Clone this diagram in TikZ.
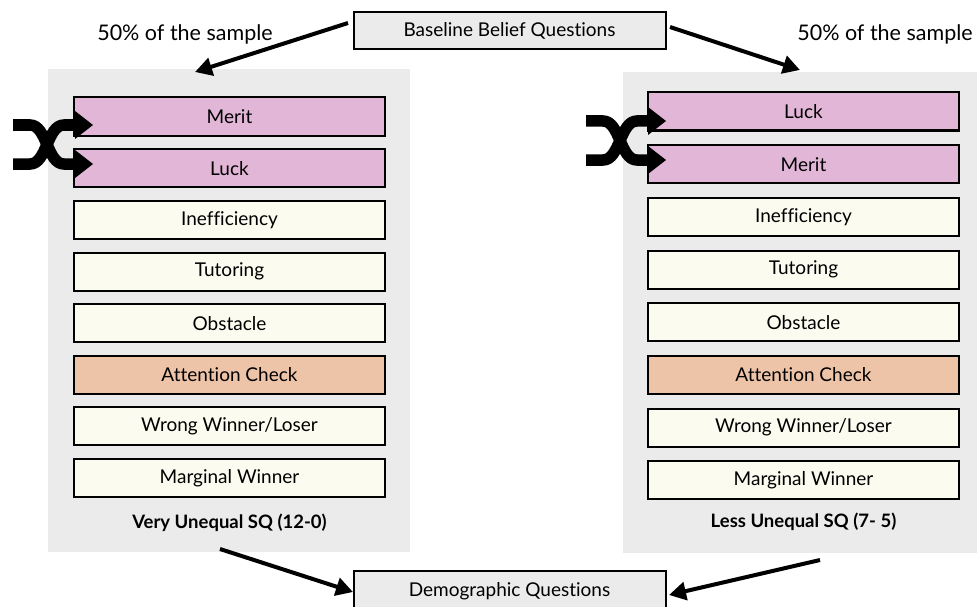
\documentclass[tikz,border=0pt]{standalone}
\usepackage{fontspec}
\setmainfont{Lato}[Ligatures=NoCommon]
\usetikzlibrary{arrows.meta}
\definecolor{panelgray}{HTML}{EBEBEB}
\definecolor{topgray}{HTML}{EBEBEB}
\definecolor{pinkq}{HTML}{E2B6D6}
\definecolor{creamq}{HTML}{FBFBEF}
\definecolor{peachq}{HTML}{EEC4A9}
\begin{document}
\begin{tikzpicture}[x=1pt,y=-1pt,
  panel/.style={fill=panelgray, draw=none},
  qbox/.style={draw=black, line width=2pt, minimum width=311pt, minimum height=38pt, inner sep=0pt, font=\fontsize{19}{22}\selectfont},
  pinkbox/.style={qbox, fill=pinkq},
  creambox/.style={qbox, fill=creamq},
  peachbox/.style={qbox, fill=peachq},
  topbox/.style={qbox, fill=topgray, minimum width=312pt, minimum height=37pt},
  plabel/.style={font=\bfseries\fontsize{18.5}{22}\selectfont},
  sample/.style={font=\fontsize{21.5}{25}\selectfont},
  arr/.style={line width=4pt, -{Triangle[length=17pt,width=18pt]}},
  shuf/.style={line width=11.5pt},
  shufhead/.style={fill=black}
]
\useasboundingbox (0,0) rectangle (979,607);
\clip (0,0) rectangle (979,607);

% panels
\fill[panel] (48,69) rectangle (410,552);
\fill[panel] (623,72) rectangle (977,553);

% top / bottom boxes
\node[topbox] (base) at (509.5,31) {Baseline Belief Questions};
\node[topbox, minimum height=44pt] (demo) at (509.5,593) {\raisebox{7pt}{Demographic Questions}};

\node[sample] (sl) at (185,34) {50\% of the sample};
\node[sample] (sr) at (885,34) {50\% of the sample};

% left column
\node[pinkbox]  (lmerit) at (229.5,116.5) {Merit};
\node[pinkbox]  (lluck)  at (229.5,168.2) {Luck};
\node[creambox] (linef)  at (229.5,219.8) {Inefficiency};
\node[creambox] (ltut)   at (229.5,271.5) {Tutoring};
\node[creambox] (lobs)   at (229.5,323.1) {Obstacle};
\node[peachbox] (latt)   at (229.5,374.8) {Attention Check};
\node[creambox] (lwrong) at (229.5,426.4) {Wrong Winner/Loser};
\node[creambox] (lmarg)  at (229.5,478.1) {Marginal Winner};
\node[plabel]   (llab)   at (229.5,523) {Very Unequal SQ (12-0)};

% right column
\node[pinkbox]  (rluck)  at (803.5,111.5) {Luck};
\node[pinkbox]  (rmerit) at (803.5,164.2) {Merit};
\node[creambox] (rinef)  at (803.5,216.9) {Inefficiency};
\node[creambox] (rtut)   at (803.5,269.6) {Tutoring};
\node[creambox] (robs)   at (803.5,322.3) {Obstacle};
\node[peachbox] (ratt)   at (803.5,375.0) {Attention Check};
\node[creambox] (rwrong) at (803.5,427.7) {Wrong Winner/Loser};
\node[creambox] (rmarg)  at (803.5,480.4) {Marginal Winner};
\node[plabel]   (rlab)   at (803.5,522) {Less Unequal SQ (7- 5)};

% arrows
\coordinate (a1s) at (348,23);
\coordinate (a1e) at (195,72);
\coordinate (a2s) at (670,27);
\coordinate (a2e) at (800,70);
\coordinate (a3s) at (220,549);
\coordinate (a3e) at (353,592);
\coordinate (a4s) at (820,560);
\coordinate (a4e) at (669,595);
\draw[arr] (a1s) -- (a1e);
\draw[arr] (a2s) -- (a2e);
\draw[arr] (a3s) -- (a3e);
\draw[arr] (a4s) -- (a4e);

% shuffle icon left
\begin{scope}[shift={(0,0)}]
\draw[shuf] (13,125) -- (30,125) .. controls (47,125) and (47,164) .. (64,164) -- (78,164);
\draw[shuf] (13,164) -- (30,164) .. controls (47,164) and (47,125) .. (64,125) -- (78,125);
\fill[shufhead] (75,111) -- (93,125) -- (75,139) -- cycle;
\fill[shufhead] (75,150) -- (93,164) -- (75,178) -- cycle;
\end{scope}
% shuffle icon right
\begin{scope}[shift={(573,-4)}]
\draw[shuf] (13,125) -- (30,125) .. controls (47,125) and (47,164) .. (64,164) -- (78,164);
\draw[shuf] (13,164) -- (30,164) .. controls (47,164) and (47,125) .. (64,125) -- (78,125);
\fill[shufhead] (75,111) -- (93,125) -- (75,139) -- cycle;
\fill[shufhead] (75,150) -- (93,164) -- (75,178) -- cycle;
\end{scope}
\end{tikzpicture}
\end{document}
